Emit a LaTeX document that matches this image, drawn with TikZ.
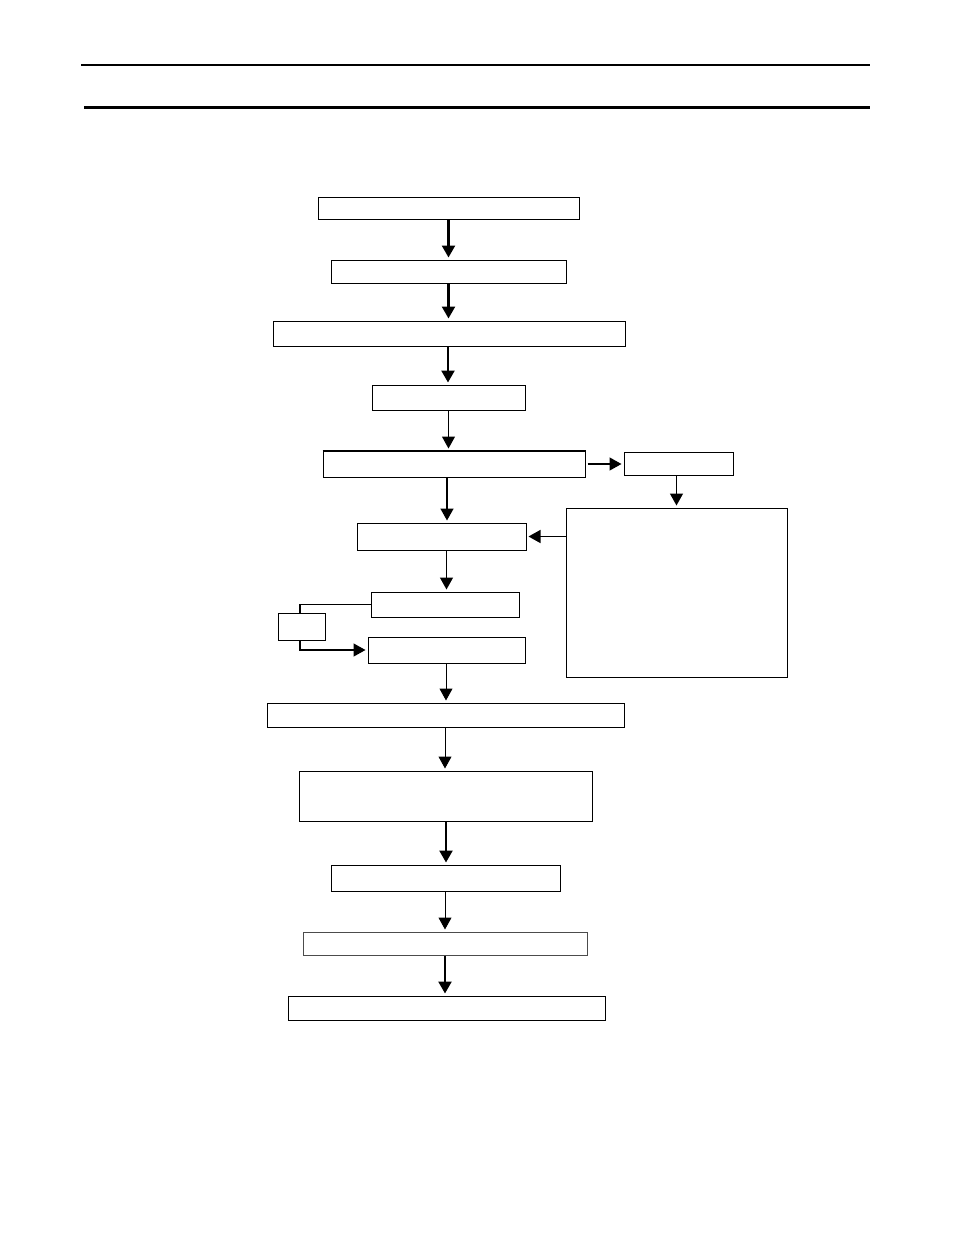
\documentclass[tikz,border=0pt]{standalone}
\usetikzlibrary{arrows.meta}
\tikzset{
  box/.style={draw,line width=1pt,inner sep=0pt},
  arr/.style={-{Triangle[width=13pt,length=12pt]},line width=1pt,shorten >=2pt},
  thickarr/.style={arr,line width=2.4pt},
  rule/.style={line width=#1,line cap=butt}
}
\begin{document}
\begin{tikzpicture}[x=1pt,y=-1pt]
\useasboundingbox (0,0) rectangle (954,1235);
% header rules
\draw[rule=2pt] (81,65)--(870,65);
\draw[rule=3pt] (84,107)--(870,107);
% main column
\node[box,minimum width=261,minimum height=22] (b1) at (448.5,208) {};
\node[box,minimum width=235,minimum height=23] (b2) at (448.5,271.5) {};
\node[box,minimum width=352,minimum height=25] (b3) at (449,333.5) {};
\node[box,minimum width=153,minimum height=25] (b4) at (448.5,397.5) {};
\node[box,minimum width=262,minimum height=26] (b5) at (454,464) {};
\draw[line width=1.8pt] (b5.north west)--(b5.north east);
\node[box,minimum width=109,minimum height=23] (b6) at (678.5,463.5) {};
\node[box,minimum width=221,minimum height=169] (b7) at (676.5,592.5) {};
\node[box,minimum width=169,minimum height=27] (b8) at (441.5,536.5) {};
\node[box,minimum width=148,minimum height=25] (b9) at (445,604.5) {};
\node[box,minimum width=47,minimum height=27] (b10) at (301.5,626.5) {};
\node[box,minimum width=157,minimum height=26] (b11) at (446.5,650) {};
\node[box,minimum width=357,minimum height=24] (b12) at (445.5,715) {};
\node[box,minimum width=293,minimum height=50] (b13) at (445.5,796) {};
\node[box,minimum width=229,minimum height=26] (b14) at (445.5,878) {};
\node[box,draw=black!70,minimum width=284,minimum height=23] (b15) at (445,943.5) {};
\node[box,minimum width=317,minimum height=24] (b16) at (446.5,1008) {};
% connectors
\draw[thickarr] (b1.south) -- (b1.south |- b2.north);
\draw[thickarr] (b2.south) -- (b2.south |- b3.north);
\draw[thickarr] ([xshift=-1pt]b3.south) -- ([xshift=-1pt]b3.south |- b4.north);
\draw[arr] (b4.south) -- (b4.south |- b5.north);
\draw[thickarr,line width=1.6pt] ([xshift=-7pt]b5.south) -- ([xshift=-7pt]b5.south |- b8.north);
\draw[arr,line width=1.4pt] ([xshift=2pt]b5.east) -- (b5.east -| b6.west);
\draw[arr,line width=1.4pt] ([xshift=-2pt]b6.south) -- ([xshift=-2pt]b6.south |- b7.north);
\draw[arr,line width=1.4pt] (b7.west |- b8.east) -- (b8.east);
\draw[arr,line width=1.4pt] ([xshift=5pt]b8.south) -- ([xshift=5pt]b8.south |- b9.north);
\draw[line width=1.4pt] (b9.west) -| ([xshift=-1.5pt]b10.north);
\draw[arr,line width=1.4pt] ([xshift=-1.5pt]b10.south) |- (b11.west);
\draw[arr] ([xshift=-0.5pt]b11.south) -- ([xshift=-0.5pt]b11.south |- b12.north);
\draw[arr] ([xshift=-0.5pt]b12.south) -- ([xshift=-0.5pt]b12.south |- b13.north);
\draw[thickarr] ([xshift=0.5pt]b13.south) -- ([xshift=0.5pt]b13.south |- b14.north);
\draw[arr] ([xshift=-0.5pt]b14.south) -- ([xshift=-0.5pt]b14.south |- b15.north);
\draw[thickarr] (b15.south) -- (b15.south |- b16.north);
\end{tikzpicture}
\end{document}
